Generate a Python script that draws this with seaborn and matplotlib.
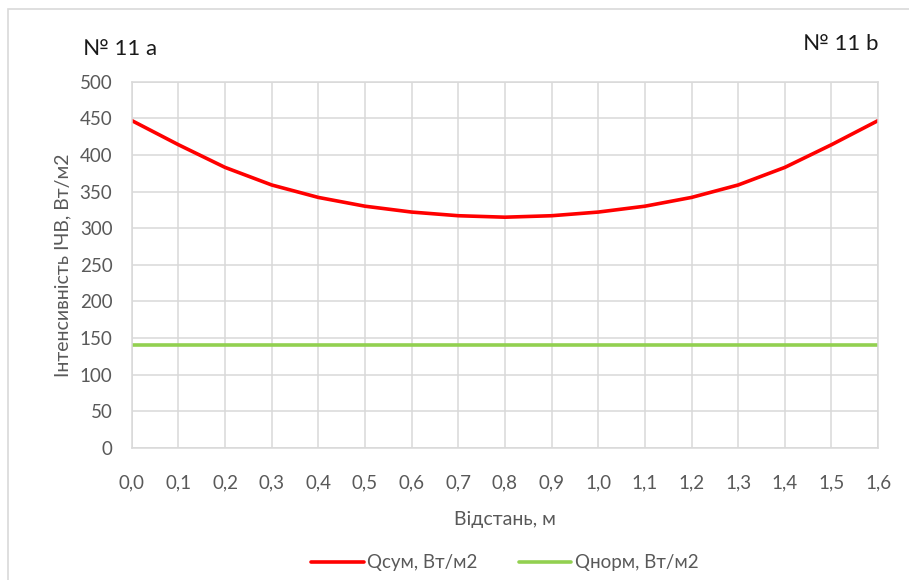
import matplotlib

matplotlib.use("Agg")

import matplotlib.pyplot as plt
import pandas as pd
import seaborn as sns
from matplotlib.patches import Rectangle

# distance, m
distance = [0.0, 0.1, 0.2, 0.3, 0.4, 0.5, 0.6, 0.7, 0.8,
            0.9, 1.0, 1.1, 1.2, 1.3, 1.4, 1.5, 1.6]
# intensity values, W/m2
q_sum = [447, 414, 383, 359, 342, 330, 322, 317, 315,
         317, 322, 330, 342, 359, 383, 414, 447]
q_norm = [140] * len(distance)

series_names = ["Qсум, Вт/м2", "Qнорм, Вт/м2"]
series_colors = ["#ff0000", "#92d050"]
y_ticks = list(range(0, 501, 50))
x_tick_labels = [f"{v:.1f}".replace(".", ",") for v in distance]

frame = pd.DataFrame(
    {
        "distance": distance * 2,
        "value": q_sum + q_norm,
        "series": [series_names[0]] * len(distance) + [series_names[1]] * len(distance),
    }
)

sns.set_theme(style="white")
plt.rcParams["font.family"] = ["Lato", "DejaVu Sans"]

grey = "#595959"
fig = plt.figure(figsize=(9.09, 5.8), dpi=100)
ax = fig.add_axes([0.145, 0.228, 0.821, 0.631])

sns.lineplot(
    data=frame,
    x="distance",
    y="value",
    hue="series",
    palette=dict(zip(series_names, series_colors)),
    linewidth=2.6,
    ax=ax,
)

ax.set_xlim(0, 1.6)
ax.set_ylim(0, 500)
ax.set_xticks(distance)
ax.set_xticklabels(x_tick_labels)
ax.set_yticks(y_ticks)
ax.grid(True, color="#d9d9d9", linewidth=1.1)
ax.set_axisbelow(True)
for spine in ax.spines.values():
    spine.set_color("#d9d9d9")
    spine.set_linewidth(1.1)
ax.tick_params(axis="both", colors=grey, labelsize=13.5, length=0)
ax.tick_params(axis="x", pad=19)
ax.tick_params(axis="y", pad=14)
ax.set_xlabel("Відстань, м", fontsize=14, color=grey, labelpad=14)
ax.set_ylabel("Інтенсивність ІЧВ, Вт/м2", fontsize=14, color=grey, labelpad=6)

ax.legend(
    loc="upper center",
    bbox_to_anchor=(0.5, -0.245),
    ncol=2,
    frameon=False,
    fontsize=13.5,
    labelcolor=grey,
    handlelength=2.8,
    handletextpad=0.2,
    columnspacing=2.2,
)

fig.text(0.091, 0.915, "№ 11 a", fontsize=16, color="#1a1a1a", ha="left", va="center")
fig.text(0.966, 0.925, "№ 11 b", fontsize=16, color="#1a1a1a", ha="right", va="center")

fig.patches.append(
    Rectangle((0.009, -0.05), 1.05, 1.034, transform=fig.transFigure,
              fill=False, edgecolor="#d9d9d9", linewidth=1.2)
)

fig.savefig("out.png", dpi=100)
plt.close(fig)
